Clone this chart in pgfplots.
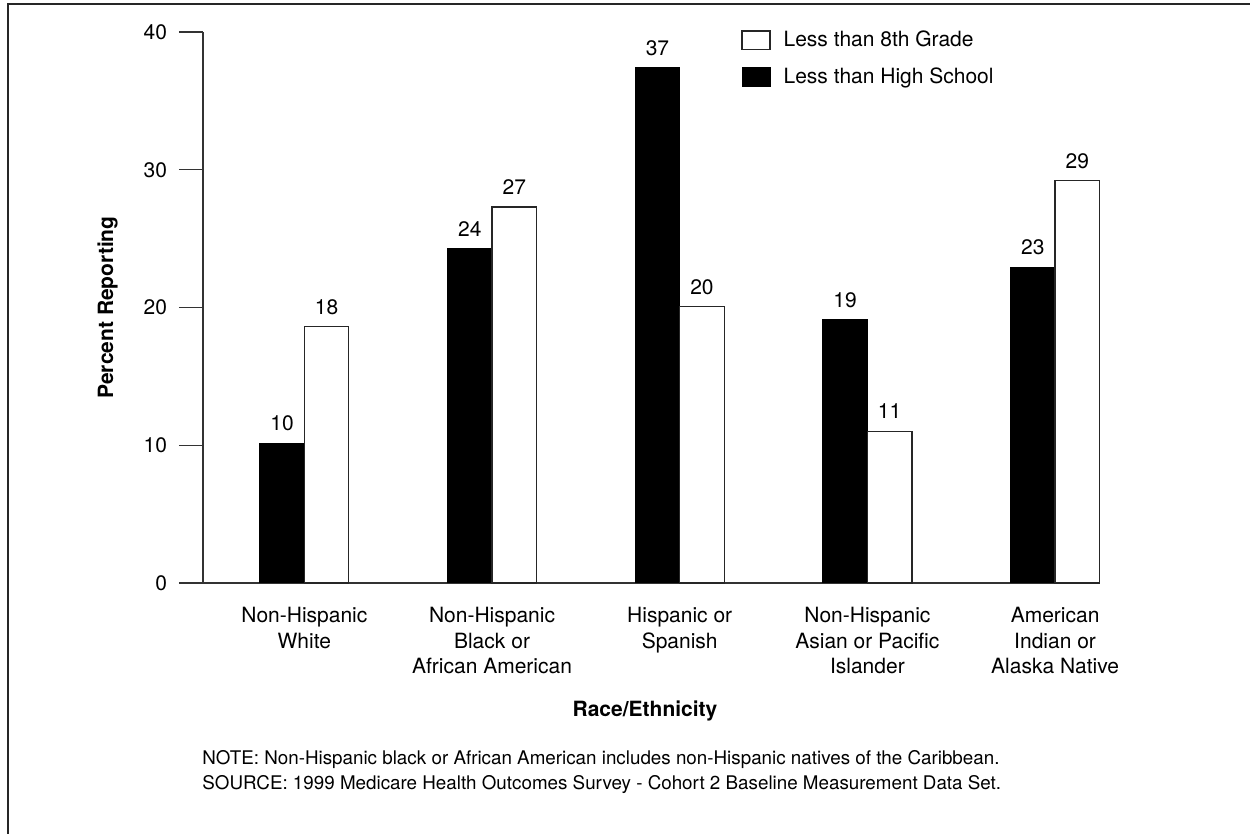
\documentclass[border=0pt]{standalone}
\usepackage{fontspec}
\setmainfont{TeX Gyre Heros}
\usepackage{pgfplots}
\pgfplotsset{compat=1.18}
\begin{document}
\begin{tikzpicture}[x=1pt,y=1pt]
\useasboundingbox (0,0) rectangle (625,417);
\draw[line width=0.8pt, black!85] (4,-1) -- (4,415) -- (626,415);
\begin{axis}[
  at={(101.5pt,125.5pt)}, anchor=south west,
  scale only axis, width=442pt, height=275.5pt,
  xmin=-0.540, xmax=4.170, ymin=0, ymax=40,
  clip=false,
  axis x line=bottom, axis y line=left,
  axis line style={-, line width=0.6pt, black!80},
  x axis line style={shorten <=-11.5pt},
  ytick={0,10,20,30,40},
  xtick={0,1,2,3,4},
  xticklabels={{Non-Hispanic\\White},{Non-Hispanic\\Black or\\African American},{Hispanic or\\Spanish},{Non-Hispanic\\Asian or Pacific\\Islander},{American\\Indian or\\Alaska Native}},
  x tick style={draw=none},
  y tick style={line width=0.6pt, black!80},
  tick align=outside, major tick length=12pt,
  /pgf/number format/assume math mode=true,
  tick label style={font=\fontsize{10.5}{12.8}\selectfont},
  yticklabel style={xshift=-2.5pt},
  xticklabel style={align=center, anchor=north, inner sep=0pt},
  xlabel={\textbf{Race/Ethnicity}},
  xlabel style={at={(axis description cs:0.5,-0.2432)}, anchor=base, font=\fontsize{10.5}{12.5}\selectfont},
  ylabel={\textbf{Percent Reporting}},
  ylabel style={at={(axis description cs:-0.1018,0.5)}, anchor=base, font=\fontsize{10.5}{12.5}\selectfont},
  reverse legend,
  legend style={draw=none, fill=none, anchor=north west, at={(0.6086,1.0097)}, inner sep=0pt,
    font=\fontsize{10.5}{12.5}\selectfont, cells={anchor=west}, row sep=5pt},
  nodes near coords, point meta=explicit symbolic,
  every node near coord/.append style={font=\fontsize{10.5}{12.5}\selectfont, anchor=base, yshift=6.3pt, inner sep=0pt},
]
\addplot[ybar, bar width=22.25pt, bar shift=-11.125pt, fill=black, draw=black, line width=0.5pt,
  every node near coord/.append style={xshift=-11.125pt},
  legend image code/.code={\draw[fill=black,draw=black,line width=0.5pt] (0pt,-4.65pt) rectangle (14pt,4.65pt); \path (18.5pt,0pt);}]
  coordinates {(0,10.15)[10] (1,24.25)[24] (2,37.4)[37] (3,19.1)[19] (4,22.9)[23]};
\addlegendentry{Less than High School}
\addplot[ybar, bar width=22.25pt, bar shift=11.125pt, fill=white, draw=black!85, line width=0.6pt,
  every node near coord/.append style={xshift=11.125pt},
  legend image code/.code={\draw[fill=white,draw=black!85,line width=0.6pt] (0pt,-4.65pt) rectangle (14pt,4.65pt); \path (18.5pt,0pt);}]
  coordinates {(0,18.6)[18] (1,27.3)[27] (2,20.05)[20] (3,11.0)[11] (4,29.2)[29]};
\addlegendentry{Less than 8th Grade}
\end{axis}
\node[anchor=base west, font=\fontsize{9.4}{11}\selectfont, inner sep=0pt] at (101,34.5) {NOTE: Non-Hispanic black or African American includes non-Hispanic natives of the Caribbean.};
\node[anchor=base west, font=\fontsize{9.4}{11}\selectfont, inner sep=0pt] at (101,22) {SOURCE: 1999 Medicare Health Outcomes Survey - Cohort 2 Baseline Measurement Data Set.};
\end{tikzpicture}
\end{document}
